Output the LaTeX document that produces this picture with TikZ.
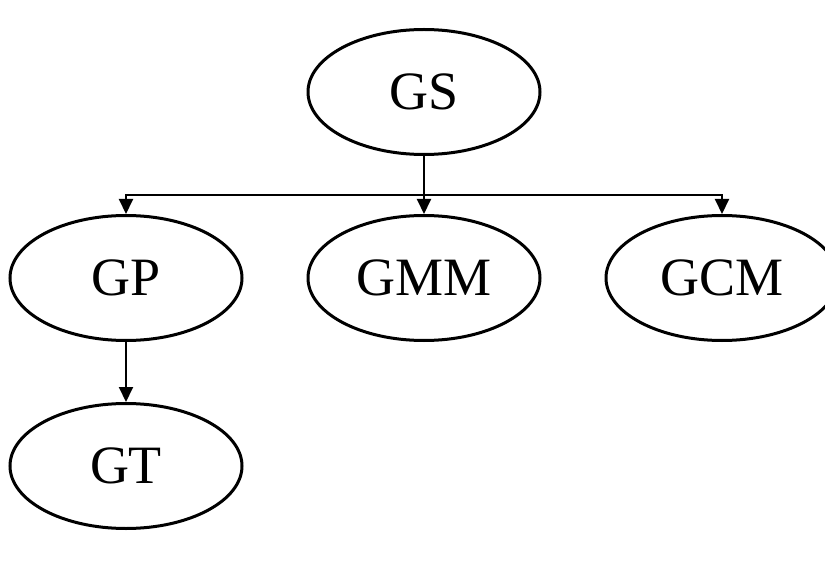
\documentclass[tikz,border=0pt]{standalone}
\usepackage{fontspec}
\setmainfont{Liberation Serif}
\usetikzlibrary{shapes.geometric,arrows.meta}
\tikzset{
  oval/.style={ellipse, draw, line width=3pt, minimum width=232pt,
               minimum height=125pt, inner sep=0pt, font=\fontsize{54}{60}\selectfont},
  arr/.style={line width=2pt, -{Triangle[length=15pt,width=14pt]}},
  wire/.style={line width=2pt}
}
\begin{document}
\begin{tikzpicture}[x=1pt,y=-1pt]
  \useasboundingbox (0,0) rectangle (825,588);
  \node[oval] (gs)  at (424,92)  {GS};
  \node[oval] (gp)  at (126,278) {GP};
  \node[oval] (gmm) at (424,278) {GMM};
  \node[oval] (gcm) at (722,278) {GCM};
  \node[oval] (gt)  at (126,466) {GT};
  \coordinate (bus) at (424,195);
  \draw[wire] (gs.south) -- (bus);
  \draw[arr] (bus) -| (gp.north);
  \draw[arr] (bus) -- (gmm.north);
  \draw[arr] (bus) -| (gcm.north);
  \draw[arr] (gp.south) -- (gt.north);
\end{tikzpicture}
\end{document}
